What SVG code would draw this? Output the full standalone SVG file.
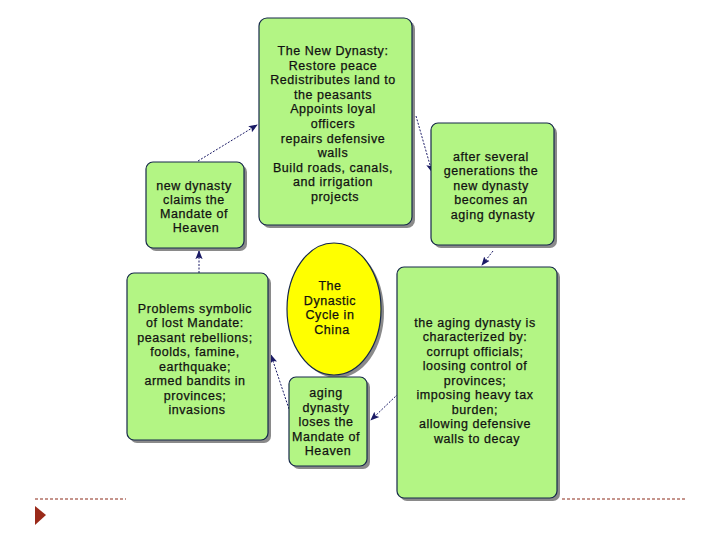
<svg xmlns="http://www.w3.org/2000/svg" width="720" height="540" viewBox="0 0 720 540">
<style>
.box{fill:#b3f584;stroke:#16284a;stroke-width:1.2}
.sh{fill:#8a8a8a}
.t{font-family:"Liberation Sans",Arial,sans-serif;font-size:12.5px;letter-spacing:0.55px;fill:#111;stroke:#111;stroke-width:0.25;text-anchor:middle}
.c{stroke:#1b1b66;stroke-width:1;stroke-dasharray:2 1.5;fill:none}
.foot{stroke:#8b2a1a;stroke-width:1;stroke-dasharray:3 2;fill:none}
</style>
<defs>
<marker id="ah" viewBox="0 0 10 10" refX="9" refY="5" markerWidth="9" markerHeight="9" orient="auto" markerUnits="userSpaceOnUse">
<path d="M0,1 L10,5 L0,9 L2,5 Z" fill="#1b1b66"/>
</marker>
</defs>
<rect width="720" height="540" fill="#fff"/>

<g id="connectors">
<line class="c" x1="198" y1="161" x2="257" y2="125" marker-end="url(#ah)"/>
<line class="c" x1="416" y1="116" x2="432" y2="172" marker-end="url(#ah)"/>
<line class="c" x1="493" y1="251" x2="482" y2="265" marker-end="url(#ah)"/>
<line class="c" x1="398" y1="394" x2="371" y2="420" marker-end="url(#ah)"/>
<line class="c" x1="289" y1="409" x2="271" y2="355" marker-end="url(#ah)"/>
<line class="c" x1="199" y1="273" x2="199" y2="251" marker-end="url(#ah)"/>
</g>

<g id="new-dynasty">
<rect class="sh" x="262" y="21" width="153" height="207" rx="8"/>
<rect class="box" x="259" y="18" width="153" height="207" rx="8"/>
<text class="t" x="335">
<tspan x="335" y="55">The New Dynasty:</tspan>
<tspan x="335" y="69.6">Restore peace</tspan>
<tspan x="335" y="84.2">Redistributes land to</tspan>
<tspan x="335" y="98.8">the peasants</tspan>
<tspan x="335" y="113.4">Appoints loyal</tspan>
<tspan x="335" y="128">officers</tspan>
<tspan x="335" y="142.6">repairs defensive</tspan>
<tspan x="335" y="157.2">walls</tspan>
<tspan x="335" y="171.8">Build roads, canals,</tspan>
<tspan x="335" y="186.4">and irrigation</tspan>
<tspan x="335" y="201">projects</tspan>
</text>
</g>

<g id="claims-mandate">
<rect class="sh" x="149" y="165" width="98" height="86" rx="7"/>
<rect class="box" x="146" y="162" width="98" height="86" rx="7"/>
<text class="t">
<tspan x="196" y="190">new dynasty</tspan>
<tspan x="196" y="204">claims the</tspan>
<tspan x="196" y="218">Mandate of</tspan>
<tspan x="196" y="232">Heaven</tspan>
</text>
</g>

<g id="after-several">
<rect class="sh" x="434" y="126" width="123" height="122" rx="7"/>
<rect class="box" x="431" y="123" width="123" height="122" rx="7"/>
<text class="t">
<tspan x="493" y="160.5">after several</tspan>
<tspan x="493" y="175">generations the</tspan>
<tspan x="493" y="189.5">new dynasty</tspan>
<tspan x="493" y="204">becomes an</tspan>
<tspan x="493" y="218.5">aging dynasty</tspan>
</text>
</g>

<g id="problems">
<rect class="sh" x="130" y="276" width="141" height="167" rx="7"/>
<rect class="box" x="127" y="273" width="141" height="167" rx="7"/>
<text class="t">
<tspan x="197" y="312.5">Problems symbolic</tspan>
<tspan x="197" y="327">of lost Mandate:</tspan>
<tspan x="197" y="341.5">peasant rebellions;</tspan>
<tspan x="197" y="356">foolds, famine,</tspan>
<tspan x="197" y="370.5">earthquake;</tspan>
<tspan x="197" y="385">armed bandits in</tspan>
<tspan x="197" y="399.5">provinces;</tspan>
<tspan x="197" y="414">invasions</tspan>
</text>
</g>

<g id="dynastic-cycle">
<ellipse cx="337" cy="312" rx="47" ry="66" fill="#8a8a8a"/>
<ellipse cx="334" cy="309" rx="47" ry="66" fill="#ffff00" stroke="#16284a" stroke-width="1.2"/>
<text class="t">
<tspan x="332" y="290">The</tspan>
<tspan x="332" y="304.5">Dynastic</tspan>
<tspan x="332" y="319">Cycle in</tspan>
<tspan x="332" y="333.5">China</tspan>
</text>
</g>

<g id="loses-mandate">
<rect class="sh" x="292" y="380" width="78" height="89" rx="7"/>
<rect class="box" x="289" y="377" width="78" height="89" rx="7"/>
<text class="t">
<tspan x="328" y="397">aging</tspan>
<tspan x="328" y="411.5">dynasty</tspan>
<tspan x="328" y="426">loses the</tspan>
<tspan x="328" y="440.5">Mandate of</tspan>
<tspan x="328" y="455">Heaven</tspan>
</text>
</g>

<g id="aging-characterized">
<rect class="sh" x="400" y="270" width="160" height="231" rx="7"/>
<rect class="box" x="397" y="267" width="160" height="231" rx="7"/>
<text class="t">
<tspan x="477" y="326.5">the aging dynasty is</tspan>
<tspan x="477" y="341">characterized by:</tspan>
<tspan x="477" y="355.5">corrupt officials;</tspan>
<tspan x="477" y="370">loosing control of</tspan>
<tspan x="477" y="384.5">provinces;</tspan>
<tspan x="477" y="399">imposing heavy tax</tspan>
<tspan x="477" y="413.5">burden;</tspan>
<tspan x="477" y="428">allowing defensive</tspan>
<tspan x="477" y="442.5">walls to decay</tspan>
</text>
</g>

<g id="footer">
<line class="foot" x1="35" y1="499" x2="126" y2="499"/>
<line class="foot" x1="562" y1="499" x2="686" y2="499"/>
<path d="M35,506 L46,515 L35,525 Z" fill="#9a2a1a"/>
</g>
</svg>
